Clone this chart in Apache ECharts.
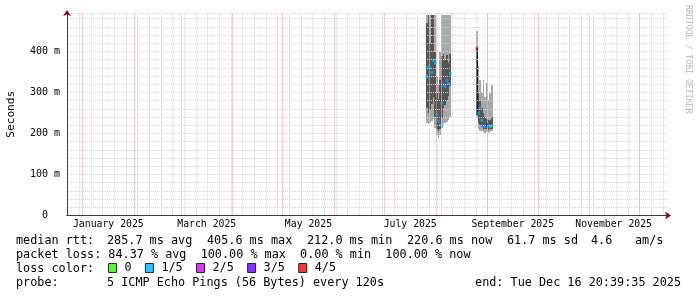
<!DOCTYPE html>
<html><head><meta charset="utf-8">
<script src="https://cdn.jsdelivr.net/npm/echarts@6/dist/echarts.min.js"></script>
<style>html,body{margin:0;padding:0;background:#fff}#c{width:697px;height:297px}</style>
</head><body><div id="c"></div>
<script>
// ---- data (x = days since 2025-01-01, values in ms) ----
const binDays     = [206.5,207.5,208.5,209.5,210.5,211.5,212.5,213.5,214.5,215.5,216.5,217.5,218.5,219.5,220.5,
                     236.5,237.5,238.5,239.5,240.5,241.5,242.5,243.5,244.5,245.5];
const smokeLo     = [225,222,226,230,236,214,196,190,196,214,222,226,228,232,240,
                     240,212,206,205,203,202,203,202,203,205];
const smokeDarkLo = [262,250,258,272,290,240,212,205,212,238,262,270,280,292,315,
                     245,225,220,215,212,210,210,209,210,212];
const smokeDarkHi = [470,489,420,489,489,400,300,285,330,390,395,380,392,372,395,
                     245,300,280,262,250,240,236,234,232,240];
const smokeHi     = [489,489,489,489,489,489,340,320,400,489,489,489,489,489,489,
                     450,365,330,300,331,290,323,282,300,319];
const medianRtt   = [339,363,360,349,378,372,245,230,221,275,320,315,330,322,347,
                     408,250,262,232,219,217,221,219,217,219];
const lossIndex   = [1,1,1,1,1,1,1,1,1,1,1,1,1,1,1,
                     4,1,1,1,1,1,3,1,0,1];
const coreDays = [236.5];
const coreLo   = [245];
const coreHi   = [408];

const lossNames  = ['0','1/5','2/5','3/5','4/5'];
const lossColors = ['#26ff00','#00b0ff','#d400ff','#6000ff','#ff0000'];

const monthStartDays = [0,31,59,90,120,151,181,212,243,273,304,334];
const monthLabelDays = [15.5,74.5,135.5,196.5,258,318.5];
const monthLabels    = ['January 2025','March 2025','May 2025','July 2025','September 2025','November 2025'];
const majorYValues   = [100,200,300,400];

const rttLabel = 'median rtt:';
const rttStats = ['285.7 ms avg','405.6 ms max','212.0 ms min','220.6 ms now','61.7 ms sd','4.6','am/s'];
const lossLine = 'packet loss: 84.37 % avg  100.00 % max  0.00 % min  100.00 % now';
const lossLabel = 'loss color:';
const probeLabel = 'probe:';
const probeText = '5 ICMP Echo Pings (56 Bytes) every 120s';
const endText = 'end: Tue Dec 16 20:39:35 2025';
const yTitle = 'Seconds';
const watermark = 'RRDTOOL / TOBI OETIKER';

// ---- chart ----
const MONO = '"DejaVu Sans Mono", monospace';
const XMIN = -9.3, XMAX = 351.1, YMAX = 494;
const GRIDC = '#d2d2d2', MGRIDC = '#eaa0a0';
const chart = echarts.init(document.getElementById('c'), null, {renderer:'canvas'});

const weekLines = [];
for (let d = -9; d <= XMAX; d += 7) weekLines.push(d); // Mondays
const gridMarks = weekLines.map(d => ({xAxis: d, lineStyle:{color:GRIDC, type:[1,1], width:1}}))
  .concat(monthStartDays.map(d => ({xAxis: d, lineStyle:{color:MGRIDC, type:[1,1], width:1}})))
  .concat(majorYValues.map(v => ({yAxis: v, lineStyle:{color:MGRIDC, type:[1,1], width:1}})));

const smokeData = binDays.map((d,i) => [d, smokeLo[i], smokeDarkLo[i], smokeDarkHi[i], smokeHi[i]]);
const coreData = coreDays.map((d,i) => [d, coreLo[i], coreHi[i]]);

function colSpan(api, d) {
  const w = api.size([1, 0])[0];
  const c = api.coord([d, 0])[0];
  const x0 = Math.round(c - w / 2), x1 = Math.round(c + w / 2);
  return [x0, Math.max(1, x1 - x0)];
}
function smokeItem(params, api) {
  const d = api.value(0);
  const [x, w] = colSpan(api, d);
  const yLo = Math.round(api.coord([d, api.value(1)])[1]);
  const yDlo = Math.round(api.coord([d, api.value(2)])[1]);
  const yDhi = Math.round(api.coord([d, api.value(3)])[1]);
  const yHi = Math.round(api.coord([d, api.value(4)])[1]);
  return {type:'group', children:[
    {type:'rect', shape:{x, y:yHi, width:w, height:yLo-yHi}, style:{fill:'#a8a8a8'}},
    {type:'rect', shape:{x, y:yDhi, width:w, height:yDlo-yDhi}, style:{fill:'#565656'}}
  ]};
}
function coreItem(params, api) {
  const d = api.value(0);
  const [x, w] = colSpan(api, d);
  const yLo = Math.round(api.coord([d, api.value(1)])[1]);
  const yHi = Math.round(api.coord([d, api.value(2)])[1]);
  return {type:'rect', shape:{x, y:yHi, width:w, height:yLo-yHi}, style:{fill:'#111'}};
}

const series = [
  {type:'line', name:'grid', data:[], silent:true, z:1,
   markLine:{silent:true, symbol:['none','none'], label:{show:false}, animation:false, data: gridMarks}},
  {type:'custom', name:'smoke', data: smokeData, renderItem: smokeItem, silent:true, z:2, clip:true,
   encode:{x:0, y:[1,2,3,4]}},
  {type:'custom', name:'core', data: coreData, renderItem: coreItem, silent:true, z:3, clip:true,
   encode:{x:0, y:[1,2]}}
];
lossNames.forEach((n, k) => {
  series.push({
    type:'scatter', name:n, symbol:'rect', symbolSize:[2.5,3], silent:true, z:5,
    itemStyle:{color: lossColors[k]},
    data: binDays.map((d,i) => lossIndex[i] === k ? [d, medianRtt[i]] : null).filter(v => v)
  });
});

const txt = (x, y, text, extra) => ({type:'text', x, y, silent:true,
  style: Object.assign({text, font:'11.8px ' + MONO, fill:'#000', verticalAlign:'middle', align:'left'}, extra || {})});
const rttX = [107,207,307,407,507,591,635];

const option = {
  animation:false,
  backgroundColor:'#ffffff',
  grid:{left:67, top:13, width:601, height:202.5, outerBoundsMode:'none', containLabel:false},
  xAxis:[
    {type:'value', min:XMIN, max:XMAX, position:'bottom', offset:0, z:6,
     axisLine:{show:true, onZero:false, lineStyle:{color:'#3a3a3a', width:1}},
     axisTick:{show:false}, splitLine:{show:false},
     axisLabel:{customValues: monthLabelDays, formatter: v => { const i = monthLabelDays.indexOf(v); return i >= 0 ? monthLabels[i] : ''; },
       fontFamily:MONO, fontSize:9.8, color:'#000', margin:4, hideOverlap:false}},
    {type:'value', min:XMIN, max:XMAX, position:'bottom', offset:0, z:4,
     axisLine:{show:true, onZero:false, symbol:['none','arrow'], symbolSize:[6,6], symbolOffset:[0,3], lineStyle:{color:'#8a0000', width:1}},
     axisTick:{show:false}, axisLabel:{show:false}, splitLine:{show:false}}
  ],
  yAxis:[
    {type:'value', min:0, max:YMAX, interval:20, position:'left', offset:0, z:6,
     axisLine:{show:true, onZero:false, lineStyle:{color:'#3a3a3a', width:1}}, axisTick:{show:false},
     splitLine:{show:true, showMinLine:false, lineStyle:{color:GRIDC, type:[1,1], width:1}},
     axisLabel:{formatter: v => v % 100 !== 0 ? '' : (v === 0 ? '0' : v + ' m'), fontFamily:MONO, fontSize:10, color:'#000', align:'center', margin:22},
     name: yTitle, nameLocation:'middle', nameRotate:90, nameGap:50,
     nameTextStyle:{fontFamily:MONO, fontSize:11.2, color:'#000'}},
    {type:'value', min:0, max:YMAX, position:'left', offset:0, z:4,
     axisLine:{show:true, onZero:false, symbol:['none','arrow'], symbolSize:[6,6], symbolOffset:[0,3], lineStyle:{color:'#8a0000', width:1}},
     axisTick:{show:false}, axisLabel:{show:false}, splitLine:{show:false}}
  ],
  legend:{data: lossNames, left:108, top:262, icon:'rect', itemWidth:8, itemHeight:9, itemGap:13.3,
    selectedMode:false, padding:0,
    itemStyle:{borderColor:'#000', borderWidth:1},
    textStyle:{fontFamily:MONO, fontSize:11.8, color:'#000', padding:[0,0,0,3]}},
  series,
  graphic:[
    txt(16, 241, rttLabel),
    ...rttStats.map((s,i) => txt(rttX[i], 241, s)),
    txt(16, 255, lossLine),
    txt(16, 269, lossLabel),
    txt(16, 283, probeLabel),
    txt(107, 283, probeText),
    txt(681, 283, endText, {align:'right'}),
    {type:'text', x:688, y:5, rotation:-Math.PI/2, silent:true,
     style:{text: watermark, font:'8.2px ' + MONO, fill:'#b8b8b8', align:'left', verticalAlign:'middle'}}
  ]
};
chart.setOption(option);
</script></body></html>
